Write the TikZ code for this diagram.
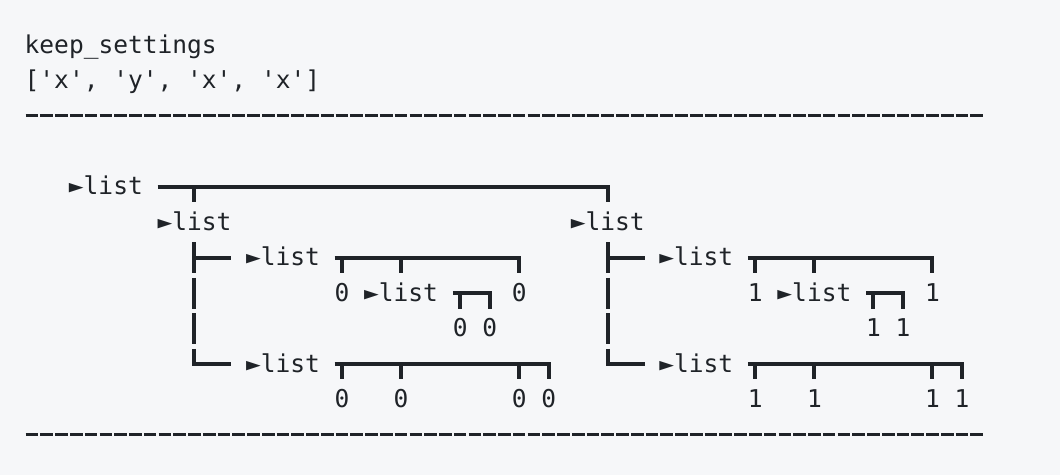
\documentclass[tikz,border=0pt]{standalone}
\usepackage{fontspec}
\setmonofont{DejaVu Sans Mono}
\usepackage{tikz}
\definecolor{codebg}{HTML}{F6F7F9}
\definecolor{darktext}{HTML}{1F2328}

\begin{document}
\begin{tikzpicture}[
    x=11.07pt, y=-26.58pt,
    every node/.style={font=\ttfamily\fontsize{18.4}{22}\selectfont, text=darktext,
                       inner sep=0pt, text height=15.64pt, text depth=3.68pt},
    plain/.style={anchor=west, outer sep=0pt},
    listnode/.style={outer xsep=11.07pt, outer ysep=5.44pt},
    leaf/.style={outer ysep=5.44pt},
    bar/.style={draw=darktext, line width=3pt},
    rule/.style={draw=darktext, line width=2.25pt, dash pattern=on 9.5pt off 1.57pt},
    rail/.style={bar, dash pattern=on 22.95pt off 3.63pt},
]

\fill[codebg] (-2.173,-1.273) rectangle (69.64,12.13);
\useasboundingbox (-2.173,-1.273) rectangle (69.64,12.13);

% Header
\node[plain] (title) at (-0.5,0) {keep\_settings};
\node[plain] (keys)  at (-0.5,1) {['x', 'y', 'x', 'x']};
\draw[rule] (-0.43,2) -- (64.43,2);
\draw[rule] (-0.43,11) -- (64.43,11);

% Tree nodes
\node[listnode] (root)  at (5,4)  {►list};
\node[listnode] (left)  at (11,5) {►list};
\node[listnode] (right) at (39,5) {►list};

\node[listnode] (la)  at (17,6) {►list};
\node[leaf]     (la1) at (21,7) {0};
\node[listnode] (lam) at (25,7) {►list};
\node[leaf]     (la3) at (33,7) {0};
\node[leaf]     (lam1) at (29,8) {0};
\node[leaf]     (lam2) at (31,8) {0};
\node[listnode] (lb)  at (17,9) {►list};
\node[leaf]     (lb1) at (21,10) {0};
\node[leaf]     (lb2) at (25,10) {0};
\node[leaf]     (lb3) at (33,10) {0};
\node[leaf]     (lb4) at (35,10) {0};

\node[listnode] (ra)  at (45,6) {►list};
\node[leaf]     (ra1) at (49,7) {1};
\node[listnode] (ram) at (53,7) {►list};
\node[leaf]     (ra3) at (61,7) {1};
\node[leaf]     (ram1) at (57,8) {1};
\node[leaf]     (ram2) at (59,8) {1};
\node[listnode] (rb)  at (45,9) {►list};
\node[leaf]     (rb1) at (49,10) {1};
\node[leaf]     (rb2) at (53,10) {1};
\node[leaf]     (rb3) at (61,10) {1};
\node[leaf]     (rb4) at (63,10) {1};

% Root bus
\draw[bar] (root.east) -| (right.north);
\draw[bar] (root.east -| left.north) -- (left.north);

% Left branch
\draw[rail] (left.south) -- ++(0,2.863);
\draw[bar] (left |- la.west) -- (la.west);
\draw[bar] (left |- lb.west) ++(0,-0.432) |- (lb.west);
\draw[bar] (la.east) -| (la3.north);
\draw[bar] (la.east -| la1.north) -- (la1.north);
\draw[bar] (la.east -| lam.north) -- (lam.north);
\draw[bar] (lam.east) -| (lam2.north);
\draw[bar] (lam.east -| lam1.north) -- (lam1.north);
\draw[bar] (lb.east) -| (lb4.north);
\draw[bar] (lb.east -| lb1.north) -- (lb1.north);
\draw[bar] (lb.east -| lb2.north) -- (lb2.north);
\draw[bar] (lb.east -| lb3.north) -- (lb3.north);

% Right branch
\draw[rail] (right.south) -- ++(0,2.863);
\draw[bar] (right |- ra.west) -- (ra.west);
\draw[bar] (right |- rb.west) ++(0,-0.432) |- (rb.west);
\draw[bar] (ra.east) -| (ra3.north);
\draw[bar] (ra.east -| ra1.north) -- (ra1.north);
\draw[bar] (ra.east -| ram.north) -- (ram.north);
\draw[bar] (ram.east) -| (ram2.north);
\draw[bar] (ram.east -| ram1.north) -- (ram1.north);
\draw[bar] (rb.east) -| (rb4.north);
\draw[bar] (rb.east -| rb1.north) -- (rb1.north);
\draw[bar] (rb.east -| rb2.north) -- (rb2.north);
\draw[bar] (rb.east -| rb3.north) -- (rb3.north);

\end{tikzpicture}
\end{document}
